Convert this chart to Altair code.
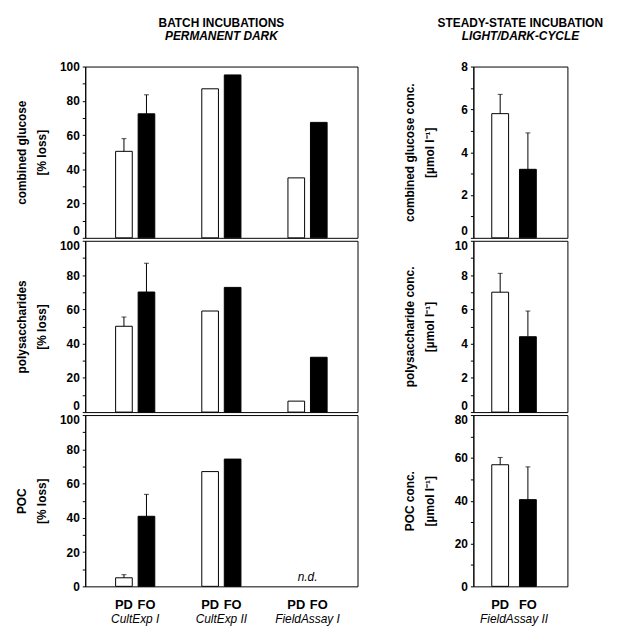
import altair as alt
import pandas as pd

FONT = "Liberation Sans"

# ---------------- data ----------------
groups_batch = ["CultExp I", "CultExp II", "FieldAssay I"]
groups_steady = ["FieldAssay II"]
samples = ["PD", "FO"]

# batch incubations, permanent dark  (% loss)
glc_loss_pd = [50.5, 87.0, 35.0]
glc_loss_fo = [72.4, 95.1, 67.4]
glc_loss_pd_sd = [7.4, None, None]
glc_loss_fo_sd = [11.1, None, None]

pcho_loss_pd = [50.1, 59.0, 6.4]
pcho_loss_fo = [70.1, 72.8, 32.0]
pcho_loss_pd_sd = [5.4, None, None]
pcho_loss_fo_sd = [16.8, None, None]

poc_loss_pd = [5.0, 67.0, None]
poc_loss_fo = [40.9, 74.3, None]
poc_loss_pd_sd = [1.8, None, None]
poc_loss_fo_sd = [12.8, None, None]
not_determined = ["FieldAssay I"]

# steady-state incubation, light/dark cycle (µmol l-1)
glc_conc_pd = [5.8]
glc_conc_fo = [3.2]
glc_conc_pd_sd = [0.9]
glc_conc_fo_sd = [1.7]

pcho_conc_pd = [7.0]
pcho_conc_fo = [4.4]
pcho_conc_pd_sd = [1.1]
pcho_conc_fo_sd = [1.5]

poc_conc_pd = [56.8]
poc_conc_fo = [40.5]
poc_conc_pd_sd = [3.4]
poc_conc_fo_sd = [15.3]


def make_df(groups, pd_vals, fo_vals):
    rows = []
    for s, vals in (("PD", pd_vals), ("FO", fo_vals)):
        for g, v in zip(groups, vals):
            if v is not None:
                rows.append({"group": g, "sample": s, "value": v})
    return pd.DataFrame(rows)


def make_err(groups, pd_vals, fo_vals, pd_sd, fo_sd):
    rows = []
    for s, vals, sds in (("PD", pd_vals, pd_sd), ("FO", fo_vals, fo_sd)):
        for g, v, sd in zip(groups, vals, sds):
            if v is not None and sd is not None:
                rows.append({"group": g, "sample": s, "value": v, "top": v + sd})
    return pd.DataFrame(rows)


def panel(groups, vals, ytitle, ymax, ystep, lstep, width, height,
          xpad, opad, bottom=False, top_flush=False, bottom_flush=False, nd=None):
    pd_vals, fo_vals, pd_sd, fo_sd = vals
    df = make_df(groups, pd_vals, fo_vals)
    err = make_err(groups, pd_vals, fo_vals, pd_sd, fo_sd)

    if bottom:
        xaxis = alt.Axis(title=None, domain=False, ticks=False, labelAngle=0,
                         labelFontStyle="italic", labelFontWeight="normal",
                         labelFontSize=12, labelPadding=28, labelBaseline="top")
    else:
        xaxis = None
    x = alt.X("group:N", scale=alt.Scale(domain=groups, paddingInner=xpad[0],
                                         paddingOuter=xpad[1], align=xpad[2]), axis=xaxis)
    xo = alt.XOffset("sample:N", scale=alt.Scale(domain=samples, paddingInner=opad[0],
                                                 paddingOuter=opad[1]))

    conds = []
    if top_flush:
        conds.append({"test": f"datum.value == {ymax}", "value": "top"})
    if bottom_flush:
        conds.append({"test": "datum.value == 0", "value": "bottom"})
    baseline = {"condition": conds, "value": "middle"} if conds else "middle"

    yaxis = alt.Axis(title=ytitle, values=list(range(0, ymax + 1, ystep)),
                     labelExpr=f"datum.value % {lstep} === 0 ? datum.label : ''",
                     labelBaseline=baseline, tickSize=3, labelPadding=3,
                     grid=False, minExtent=28, maxExtent=28, titlePadding=9,
                     titleLineHeight=20)
    yscale = alt.Scale(domain=[0, ymax], nice=False, zero=True)

    bars = alt.Chart(df).mark_bar(stroke="black", strokeWidth=1).encode(
        x=x, xOffset=xo,
        y=alt.Y("value:Q", scale=yscale, axis=yaxis),
        color=alt.Color("sample:N", scale=alt.Scale(domain=samples, range=["white", "black"]),
                        legend=None),
    )
    layers = [bars]
    if len(err):
        rule = alt.Chart(err).mark_rule(color="black", strokeWidth=1).encode(
            x=x, xOffset=xo,
            y=alt.Y("value:Q", scale=yscale, axis=yaxis), y2="top:Q")
        cap = alt.Chart(err).mark_tick(color="black", thickness=1, size=5).encode(
            x=x, xOffset=xo,
            y=alt.Y("top:Q", scale=yscale, axis=yaxis))
        layers += [rule, cap]
    if nd:
        ndt = alt.Chart(pd.DataFrame({"group": nd, "label": ["n.d."] * len(nd)})).mark_text(
            font=FONT, fontSize=12, fontStyle="italic", baseline="middle", color="black").encode(
            x=x, y=alt.value(height - 9), text="label:N")
        layers.append(ndt)
    if bottom:
        lab = pd.DataFrame([{"group": g, "sample": s} for g in groups for s in samples])
        txt = alt.Chart(lab).mark_text(font=FONT, fontSize=13, fontWeight="bold",
                                       baseline="middle", color="black").encode(
            x=x, xOffset=xo, y=alt.value(height + 19), text="sample:N")
        layers.append(txt)
    return alt.layer(*layers).properties(width=width, height=height).resolve_scale(
        xOffset="shared")


H = 173
LW, RW = 275, 95
LX, LO = (0.5, 0.33, 0.5), (0.26, 0.087)
RX, RO = (0.0, 0.3, 0.32), (0.393, 0.257)

title_kw = dict(fontSize=12, subtitleFontSize=12, font=FONT, subtitleFont=FONT,
                fontWeight="bold", subtitleFontWeight="bold", subtitleFontStyle="italic",
                color="black", subtitleColor="black", anchor="middle", frame="group",
                offset=18, subtitlePadding=1)

l1 = panel(groups_batch, (glc_loss_pd, glc_loss_fo, glc_loss_pd_sd, glc_loss_fo_sd),
           ["combined glucose", "[% loss]"], 100, 10, 20, LW, H, LX, LO,
           bottom_flush=True).properties(
    title=alt.TitleParams(text="BATCH INCUBATIONS", subtitle="PERMANENT DARK", **title_kw))
l2 = panel(groups_batch, (pcho_loss_pd, pcho_loss_fo, pcho_loss_pd_sd, pcho_loss_fo_sd),
           ["polysaccharides", "[% loss]"], 100, 10, 20, LW, H, LX, LO,
           top_flush=True, bottom_flush=True)
l3 = panel(groups_batch, (poc_loss_pd, poc_loss_fo, poc_loss_pd_sd, poc_loss_fo_sd),
           ["POC", "[% loss]"], 100, 10, 20, LW, H, LX, LO,
           bottom=True, top_flush=True, nd=not_determined)

r1 = panel(groups_steady, (glc_conc_pd, glc_conc_fo, glc_conc_pd_sd, glc_conc_fo_sd),
           ["combined glucose conc.", "[µmol l⁻¹]"], 8, 1, 2, RW, H, RX, RO,
           bottom_flush=True).properties(
    title=alt.TitleParams(text="STEADY-STATE INCUBATION", subtitle="LIGHT/DARK-CYCLE",
                          **title_kw))
r2 = panel(groups_steady, (pcho_conc_pd, pcho_conc_fo, pcho_conc_pd_sd, pcho_conc_fo_sd),
           ["polysaccharide conc.", "[µmol l⁻¹]"], 10, 1, 2, RW, H, RX, RO,
           top_flush=True, bottom_flush=True)
r3 = panel(groups_steady, (poc_conc_pd, poc_conc_fo, poc_conc_pd_sd, poc_conc_fo_sd),
           ["POC conc.", "[µmol l⁻¹]"], 80, 10, 20, RW, H, RX, RO,
           bottom=True, top_flush=True)

left = alt.vconcat(l1, l2, l3, spacing=0).resolve_scale(x="independent", xOffset="independent")
right = alt.vconcat(r1, r2, r3, spacing=0).resolve_scale(x="independent", xOffset="independent")

chart = alt.hconcat(left, right, spacing=45).resolve_scale(
    x="independent", xOffset="independent"
).configure(
    background="white",
    padding={"left": 7, "top": 5, "right": 5, "bottom": 5},
).configure_view(
    stroke="black", strokeWidth=1
).configure_axis(
    labelFont=FONT, titleFont=FONT, labelFontSize=12, titleFontSize=12,
    labelFontWeight="bold", titleFontWeight="bold", labelColor="black",
    titleColor="black", domainColor="black", tickColor="black",
)

chart.save("out.html", embed_options={"renderer": "svg", "actions": False})
